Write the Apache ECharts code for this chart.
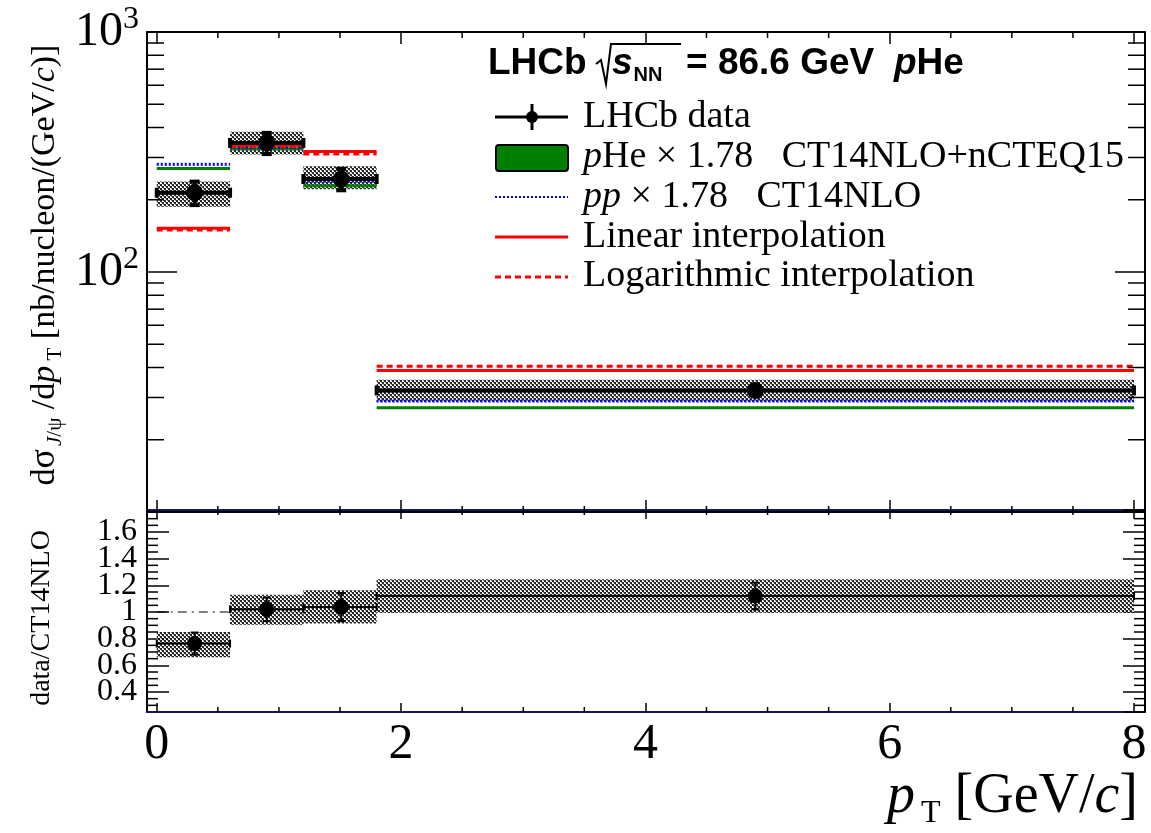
<!DOCTYPE html>
<html><head><meta charset="utf-8">
<script src="https://cdn.jsdelivr.net/npm/echarts@6/dist/echarts.min.js"></script>
<style>html,body{margin:0;padding:0;background:#fff}#c{width:1151px;height:833px}</style>
</head><body><div id="c"></div>
<script>
// ---------------- data ----------------
const binLo = [0.0, 0.6, 1.2, 1.8];
const binHi = [0.6, 1.2, 1.8, 8.0];
const meanPt = [0.31, 0.90, 1.51, 4.90];
const xsec = [214, 345, 244, 32.1];
const xsecStat = [24, 35, 25, 1.5];
const xsecSysLo = [187, 309, 221, 28.7];
const xsecSysHi = [238, 384, 276, 35.6];
const pHeNLO = [270, 326, 229, 27.2];
const ppNLO = [281, 330, 239, 29.0];
const linInterp = [152, 337, 318, 38.9];
const logInterp = [149.5, 333, 310, 40.5];
const ratio = [0.763, 1.02, 1.037, 1.12];
const ratioStat = [0.083, 0.088, 0.105, 0.10];
const ratioSysLo = [0.66, 0.905, 0.913, 0.995];
const ratioSysHi = [0.85, 1.13, 1.163, 1.245];
const unityLine = [0, 8, 1];
const logMinorTicks = [20, 30, 40, 50, 60, 70, 80, 90, 200, 300, 400, 500, 600, 700, 800, 900];
const ratioMinorTicks = [0.3, 0.35, 0.45, 0.5, 0.55, 0.65, 0.7, 0.75, 0.85, 0.9, 0.95, 1.05, 1.1, 1.15, 1.25, 1.3, 1.35, 1.45, 1.5, 1.55, 1.65, 1.7, 1.75];
const xMinorTicks = [0.5, 1, 1.5, 2.5, 3, 3.5, 4.5, 5, 5.5, 6.5, 7, 7.5];
const XMIN = -0.08, XMAX = 8.09;

// ---------------- styles ----------------
const SERIF = "'Liberation Serif','Times New Roman',serif";
const SANS = "'Liberation Sans',Arial,sans-serif";
const NAVY = '#16165a';
const GREEN = '#008000', BLUE = '#0000ff', RED = '#ff0000';

function makeHatch() {
  const c = document.createElement('canvas');
  c.width = 4; c.height = 4;
  const g = c.getContext('2d');
  g.fillStyle = '#fff';
  g.fillRect(0, 0, 4, 4);
  g.fillStyle = '#000';
  g.fillRect(0, 0, 2, 2);
  g.fillRect(2, 2, 2, 2);
  g.fillStyle = '#777';
  g.fillRect(1, 2, 1, 1);
  g.fillRect(3, 0, 1, 1);
  return c;
}
const hatch = { image: makeHatch(), repeat: 'repeat' };

function boxSeries(xi, yi, lo, hi) {
  return {
    type: 'custom', xAxisIndex: xi, yAxisIndex: yi, z: 2, silent: true,
    data: binLo.map((b, i) => [b, lo[i], binHi[i], hi[i]]),
    renderItem: (p, api) => {
      const a = api.coord([api.value(0), api.value(3)]);
      const b = api.coord([api.value(2), api.value(1)]);
      return { type: 'rect', shape: { x: a[0], y: a[1], width: b[0] - a[0], height: b[1] - a[1] }, style: { fill: hatch, opacity: 0.85 } };
    }
  };
}
function stepSeries(xi, yi, vals, color, width, dash, z) {
  return {
    type: 'custom', xAxisIndex: xi, yAxisIndex: yi, z: z, silent: true,
    data: vals.map((v, i) => [binLo[i], v, binHi[i]]),
    renderItem: (p, api) => {
      const a = api.coord([api.value(0), api.value(1)]);
      const b = api.coord([api.value(2), api.value(1)]);
      return { type: 'line', shape: { x1: a[0], y1: a[1], x2: b[0], y2: b[1] }, style: { stroke: color, lineWidth: width, lineDash: dash || null } };
    }
  };
}
function dataSeries(xi, yi, vals, errs, lw, r, cap) {
  return {
    type: 'custom', xAxisIndex: xi, yAxisIndex: yi, z: 4, silent: true,
    data: vals.map((v, i) => [meanPt[i], v, binLo[i], binHi[i], errs[i]]),
    renderItem: (p, api) => {
      const v = api.value(1), e = api.value(4);
      const c = api.coord([api.value(0), v]);
      const l = api.coord([api.value(2), v]);
      const rr = api.coord([api.value(3), v]);
      const t = api.coord([api.value(0), v + e]);
      const b = api.coord([api.value(0), v - e]);
      const st = { stroke: '#000', lineWidth: lw };
      return {
        type: 'group', children: [
          { type: 'line', shape: { x1: l[0], y1: l[1], x2: rr[0], y2: rr[1] }, style: st },
          { type: 'line', shape: { x1: l[0], y1: l[1] - cap, x2: l[0], y2: l[1] + cap }, style: st },
          { type: 'line', shape: { x1: rr[0], y1: rr[1] - cap, x2: rr[0], y2: rr[1] + cap }, style: st },
          { type: 'line', shape: { x1: t[0], y1: t[1], x2: b[0], y2: b[1] }, style: st },
          { type: 'line', shape: { x1: t[0] - cap, y1: t[1], x2: t[0] + cap, y2: t[1] }, style: st },
          { type: 'line', shape: { x1: b[0] - cap, y1: b[1], x2: b[0] + cap, y2: b[1] }, style: st },
          { type: 'circle', shape: { cx: c[0], cy: c[1], r: r }, style: { fill: '#000' } }
        ]
      };
    }
  };
}
function yTickSeries(xi, yi, vals, len) {
  return {
    type: 'custom', xAxisIndex: xi, yAxisIndex: yi, z: 6, silent: true,
    data: vals.map(v => [1, v]),
    renderItem: (p, api) => {
      const cs = p.coordSys;
      const y = api.coord([1, api.value(1)])[1];
      const st = { stroke: '#000', lineWidth: 1.5 };
      return {
        type: 'group', children: [
          { type: 'line', shape: { x1: cs.x, y1: y, x2: cs.x + len, y2: y }, style: st },
          { type: 'line', shape: { x1: cs.x + cs.width, y1: y, x2: cs.x + cs.width - len, y2: y }, style: st }
        ]
      };
    }
  };
}
function xTickSeries(xi, yi, vals, yRef, len) {
  return {
    type: 'custom', xAxisIndex: xi, yAxisIndex: yi, z: 6, silent: true,
    data: vals.map(v => [v, yRef]),
    renderItem: (p, api) => {
      const cs = p.coordSys;
      const x = api.coord([api.value(0), api.value(1)])[0];
      const st = { stroke: '#000', lineWidth: 1.5 };
      return {
        type: 'group', children: [
          { type: 'line', shape: { x1: x, y1: cs.y + cs.height, x2: x, y2: cs.y + cs.height - len }, style: st },
          { type: 'line', shape: { x1: x, y1: cs.y, x2: x, y2: cs.y + len }, style: st }
        ]
      };
    }
  };
}

function xAx(grid, pos, labels, lineColor, tickLen) {
  return {
    gridIndex: grid, type: 'value', min: XMIN, max: XMAX, position: pos,
    axisLine: { onZero: false, lineStyle: { color: lineColor, width: 2 } },
    axisTick: { inside: true, length: tickLen, lineStyle: { color: '#000', width: 1.5 } },
    axisLabel: labels ? { show: true, fontFamily: SERIF, fontSize: 50, color: '#000', margin: 8, showMinLabel: false, showMaxLabel: false } : { show: false },
    splitLine: { show: false }
  };
}
function yLog(pos, labels) {
  return {
    gridIndex: 0, type: 'log', logBase: 10, min: 10, max: 1000, position: pos,
    axisLine: { onZero: false, lineStyle: { color: '#000', width: 2 } },
    axisTick: { inside: true, length: 30, lineStyle: { color: '#000', width: 1.5 } },
    axisLabel: labels ? {
      show: true, margin: 8, showMinLabel: false,
      formatter: v => '{b|10}{s|' + Math.round(Math.log10(v)) + '}',
      rich: {
        b: { fontFamily: SERIF, fontSize: 48, color: '#000' },
        s: { fontFamily: SERIF, fontSize: 32, color: '#000', padding: [0, 0, 24, 0] }
      }
    } : { show: false },
    splitLine: { show: false }
  };
}
function yRatio(pos, labels) {
  return {
    gridIndex: 1, type: 'value', min: 0.25, max: 1.765, splitNumber: 7, position: pos,
    axisLine: { onZero: false, lineStyle: { color: '#000', width: 2 } },
    axisTick: { inside: true, length: 22, lineStyle: { color: '#000', width: 1.5 } },
    axisLabel: labels ? { show: true, fontFamily: SERIF, fontSize: 32, color: '#000', margin: 10, showMinLabel: false, showMaxLabel: false } : { show: false },
    splitLine: { show: false }
  };
}

const option = {
  animation: false,
  backgroundColor: '#fff',
  grid: [
    { left: 147, right: 6, top: 32, height: 480 },
    { left: 147, right: 6, top: 510, height: 202 }
  ],
  xAxis: [
    xAx(0, 'bottom', false, '#000', 12),
    xAx(0, 'top', false, '#000', 12),
    xAx(1, 'bottom', true, NAVY, 9),
    xAx(1, 'top', false, NAVY, 9)
  ],
  yAxis: [yLog('left', true), yLog('right', false), yRatio('left', true), yRatio('right', false)],
  series: [
    boxSeries(0, 0, xsecSysLo, xsecSysHi),
    stepSeries(0, 0, pHeNLO, GREEN, 3, null, 3),
    stepSeries(0, 0, ppNLO, BLUE, 3, [2, 2], 3),
    stepSeries(0, 0, linInterp, RED, 3, null, 3),
    stepSeries(0, 0, logInterp, RED, 3, [6, 4], 3),
    dataSeries(0, 0, xsec, xsecStat, 4, 8.5, 5),
    {
      type: 'custom', xAxisIndex: 2, yAxisIndex: 2, z: 1, silent: true,
      data: [unityLine],
      renderItem: (p, api) => {
        const a = api.coord([api.value(0), api.value(2)]);
        const b = api.coord([api.value(1), api.value(2)]);
        return { type: 'line', shape: { x1: a[0], y1: a[1], x2: b[0], y2: b[1] }, style: { stroke: '#000', lineWidth: 1, lineDash: [9, 5, 2, 5] } };
      }
    },
    boxSeries(2, 2, ratioSysLo, ratioSysHi),
    dataSeries(2, 2, ratio, ratioStat, 2, 7.5, 4),
    yTickSeries(0, 0, logMinorTicks, 17),
    yTickSeries(2, 2, ratioMinorTicks, 11),
    xTickSeries(0, 0, xMinorTicks, 100, 6),
    xTickSeries(2, 2, xMinorTicks, 1, 5)
  ],
  graphic: [
    // header
    { type: 'text', x: 488, y: 64, style: { text: 'LHCb', fontFamily: SANS, fontSize: 37, fontWeight: 'bold', fill: '#000', verticalAlign: 'middle' } },
    { type: 'polyline', shape: { points: [[596, 64], [601, 60], [606, 84], [611, 44], [681, 44]] }, style: { stroke: '#000', lineWidth: 2, fill: null } },
    { type: 'text', x: 612, y: 64, style: { text: '{s|s}{n|NN}', fill: '#000', verticalAlign: 'middle',
        rich: { s: { fontFamily: SANS, fontSize: 37, fontWeight: 'bold', fontStyle: 'italic', fill: '#000' },
                n: { fontFamily: SANS, fontSize: 20, fontWeight: 'bold', fill: '#000', padding: [22, 0, 0, 1] } } } },
    { type: 'text', x: 686, y: 64, style: { text: '= 86.6 GeV', fontFamily: SANS, fontSize: 37, fontWeight: 'bold', fill: '#000', verticalAlign: 'middle' } },
    { type: 'text', x: 894, y: 64, style: { text: '{p|p}He', fontFamily: SANS, fontSize: 37, fontWeight: 'bold', fill: '#000', verticalAlign: 'middle',
        rich: { p: { fontFamily: SANS, fontSize: 37, fontWeight: 'bold', fontStyle: 'italic', fill: '#000' } } } },
    // legend symbols
    { type: 'line', shape: { x1: 495, y1: 117, x2: 568, y2: 117 }, style: { stroke: '#000', lineWidth: 3 } },
    { type: 'line', shape: { x1: 532, y1: 104, x2: 532, y2: 130 }, style: { stroke: '#000', lineWidth: 3 } },
    { type: 'circle', shape: { cx: 532, cy: 117, r: 6 }, style: { fill: '#000' } },
    { type: 'rect', shape: { x: 496, y: 145, width: 72, height: 26, r: 3 }, style: { fill: GREEN, stroke: '#000', lineWidth: 2 } },
    { type: 'line', shape: { x1: 495, y1: 197, x2: 568, y2: 197 }, style: { stroke: BLUE, lineWidth: 2, lineDash: [2, 2] } },
    { type: 'line', shape: { x1: 495, y1: 237, x2: 568, y2: 237 }, style: { stroke: RED, lineWidth: 3 } },
    { type: 'line', shape: { x1: 495, y1: 277, x2: 568, y2: 277 }, style: { stroke: RED, lineWidth: 3, lineDash: [6, 4] } },
    // legend texts
    { type: 'text', x: 583, y: 117, style: { text: 'LHCb data', fontFamily: SERIF, fontSize: 38, fill: '#000', verticalAlign: 'middle' } },
    { type: 'text', x: 583, y: 157, style: { text: '{i|p}He × 1.78   CT14NLO+nCTEQ15', fontFamily: SERIF, fontSize: 38, fill: '#000', verticalAlign: 'middle',
        rich: { i: { fontFamily: SERIF, fontSize: 38, fontStyle: 'italic', fill: '#000' } } } },
    { type: 'text', x: 583, y: 197, style: { text: '{i|pp} × 1.78   CT14NLO', fontFamily: SERIF, fontSize: 38, fill: '#000', verticalAlign: 'middle',
        rich: { i: { fontFamily: SERIF, fontSize: 38, fontStyle: 'italic', fill: '#000' } } } },
    { type: 'text', x: 583, y: 237, style: { text: 'Linear interpolation', fontFamily: SERIF, fontSize: 38, fill: '#000', verticalAlign: 'middle' } },
    { type: 'text', x: 583, y: 276, style: { text: 'Logarithmic interpolation', fontFamily: SERIF, fontSize: 38, fill: '#000', verticalAlign: 'middle' } },
    // axis titles
    { type: 'text', x: 1138, y: 797, style: { text: '{i|p}{t|T} [GeV/{i|c}]', fontFamily: SERIF, fontSize: 56, fill: '#000', align: 'right', verticalAlign: 'middle',
        rich: { i: { fontFamily: SERIF, fontSize: 56, fontStyle: 'italic', fill: '#000' },
                t: { fontFamily: SERIF, fontSize: 32, fill: '#000', padding: [34, 0, 0, 6] } } } },
    { type: 'text', x: 45, y: 265, rotation: Math.PI / 2, style: { text: 'd{g|σ}{j|J}{t|/ψ} /d{i|p}{t| T} [nb/nucleon/(GeV/{i|c})]', fontFamily: SERIF, fontSize: 34, fill: '#000', align: 'center', verticalAlign: 'middle',
        rich: { g: { fontFamily: SERIF, fontSize: 36, fill: '#000' },
                i: { fontFamily: SERIF, fontSize: 34, fontStyle: 'italic', fill: '#000' },
                j: { fontFamily: SERIF, fontSize: 21, fontStyle: 'italic', fill: '#000', padding: [20, 0, 0, 3] },
                t: { fontFamily: SERIF, fontSize: 21, fill: '#000', padding: [20, 0, 0, 0] } } } },
    { type: 'text', x: 42, y: 618, rotation: Math.PI / 2, style: { text: 'data/CT14NLO', fontFamily: SERIF, fontSize: 28, fill: '#000', align: 'center', verticalAlign: 'middle' } }
  ]
};
const chart = echarts.init(document.getElementById('c'), null, { renderer: 'canvas' });
chart.setOption(option);
</script></body></html>
